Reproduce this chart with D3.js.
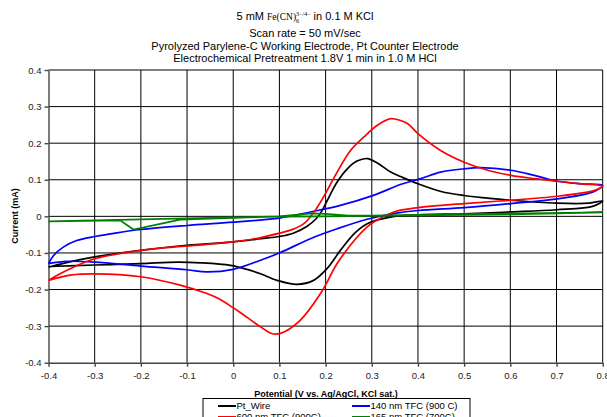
<!DOCTYPE html>
<html>
<head>
<meta charset="utf-8">
<script src="https://d3js.org/d3.v7.min.js"></script>
<style>
body {margin: 0; background: #fff;}
svg {font-family: Arial, "Liberation Sans", sans-serif;}
.grid line {stroke: #000; stroke-width: 1;}
.axis path, .axis line {stroke: #444; stroke-width: 1.4;}
.axis text {font-size: 9.5px; fill: #222;}
.curve {fill: none; stroke-width: 1.7;}
</style>
</head>
<body>
<svg width="607" height="417"></svg>
<script>
// tick values
var xTicks = [-0.4, -0.3, -0.2, -0.1, 0, 0.1, 0.2, 0.3, 0.4, 0.5, 0.6, 0.7, 0.8];
var yTicks = [-0.4, -0.3, -0.2, -0.1, 0, 0.1, 0.2, 0.3, 0.4];

// each curve: [potential V, current mA], in scan order (forward then back)
var ptWire = [[-0.4,-0.139],[-0.37,-0.129],[-0.3,-0.111],[-0.2,-0.093],[-0.1,-0.079],[0.0,-0.070],
  [0.06,-0.061],[0.10,-0.055],[0.13,-0.046],[0.16,-0.027],[0.18,-0.006],[0.192,0.015],[0.203,0.042],
  [0.225,0.094],[0.247,0.130],[0.268,0.151],[0.29,0.158],[0.312,0.146],[0.341,0.121],[0.362,0.109],
  [0.4,0.089],[0.45,0.068],[0.5,0.057],[0.55,0.050],[0.6,0.044],[0.7,0.036],[0.77,0.036],[0.8,0.042],
  [0.78,0.028],[0.7,0.018],[0.6,0.012],[0.5,0.007],[0.4,0.004],[0.34,-0.002],[0.29,-0.020],[0.262,-0.047],
  [0.232,-0.093],[0.203,-0.143],[0.174,-0.175],[0.138,-0.186],[0.095,-0.175],[0.059,-0.157],[0.03,-0.145],
  [-0.006,-0.134],[-0.07,-0.127],[-0.12,-0.125],[-0.2,-0.129],[-0.3,-0.133],[-0.4,-0.137]];

var tfc140 = [[-0.4,-0.129],[-0.389,-0.107],[-0.368,-0.084],[-0.339,-0.066],[-0.299,-0.055],[-0.252,-0.045],
  [-0.2,-0.036],[-0.1,-0.025],[0.0,-0.016],[0.102,-0.004],[0.167,0.012],[0.232,0.030],[0.305,0.058],
  [0.362,0.087],[0.406,0.103],[0.449,0.121],[0.5,0.130],[0.536,0.133],[0.601,0.126],[0.652,0.112],
  [0.702,0.096],[0.753,0.089],[0.8,0.085],
  [0.785,0.070],[0.767,0.062],[0.702,0.048],[0.601,0.035],[0.5,0.024],[0.4,0.016],[0.35,0.008],[0.29,-0.008],
  [0.225,-0.034],[0.167,-0.061],[0.102,-0.099],[0.059,-0.120],[0.0,-0.145],[-0.057,-0.152],[-0.1,-0.146],
  [-0.2,-0.136],[-0.3,-0.125],[-0.36,-0.123],[-0.4,-0.129]];

var tfc600 = [[-0.4,-0.175],[-0.375,-0.157],[-0.346,-0.139],[-0.3,-0.116],[-0.2,-0.093],[-0.1,-0.081],[0.0,-0.070],
  [0.06,-0.058],[0.10,-0.046],[0.13,-0.035],[0.155,-0.018],[0.182,0.025],[0.2035,0.071],[0.225,0.121],
  [0.254,0.180],[0.283,0.217],[0.312,0.249],[0.341,0.267],[0.362,0.262],[0.378,0.253],[0.4,0.226],
  [0.449,0.180],[0.5,0.148],[0.551,0.126],[0.601,0.112],[0.652,0.103],[0.702,0.096],[0.753,0.089],[0.8,0.082],
  [0.785,0.072],[0.767,0.066],[0.702,0.055],[0.601,0.044],[0.5,0.035],[0.4,0.024],[0.348,0.012],[0.305,-0.015],
  [0.29,-0.029],[0.262,-0.066],[0.225,-0.129],[0.189,-0.211],[0.145,-0.284],[0.102,-0.320],[0.085,-0.321],
  [0.059,-0.302],[0.03,-0.276],[0.0,-0.250],[-0.03,-0.226],[-0.057,-0.211],[-0.115,-0.188],[-0.2,-0.165],
  [-0.3,-0.157],[-0.35,-0.160],[-0.4,-0.175]];

var tfc165 = [[-0.4,-0.014],[-0.245,-0.011],[-0.216,-0.036],[-0.115,-0.009],[0.0,-0.004],[0.1,0.000],
  [0.17,0.008],[0.2,0.007],[0.25,0.002],[0.3,0.002],[0.5,0.006],[0.8,0.011],
  [0.6,0.005],[0.3,0.001],[0.2,0.000],[0.1,-0.001],[0.0,-0.003],[-0.2,-0.008],[-0.4,-0.014]];

var seriesNames = ["Pt_Wire", "140 nm TFC (900 C)", "600 nm TFC (900C)", "165 nm TFC (700C)"];
var seriesColors = ["#000000", "#0000ff", "#ff0000", "#008000"];
var seriesData = [ptWire, tfc140, tfc600, tfc165];

var svg = d3.select("svg");
var x = d3.scaleLinear().domain([-0.4, 0.8]).range([48.5, 602.7]);
var y = d3.scaleLinear().domain([-0.4, 0.4]).range([362.7, 70]);

function fmt(d) { return d === 0 ? "0" : String(+d.toFixed(1)); }

// grid
var grid = svg.append("g").attr("class", "grid");
grid.selectAll(".v").data(xTicks.slice(1)).enter().append("line")
  .attr("x1", x).attr("x2", x).attr("y1", y(-0.4)).attr("y2", y(0.4));
grid.selectAll(".h").data(yTicks.slice(1)).enter().append("line")
  .attr("x1", x(-0.4)).attr("x2", x(0.8)).attr("y1", y).attr("y2", y);

// axes
svg.append("g").attr("class", "axis")
  .attr("transform", "translate(0," + y(-0.4) + ")")
  .call(d3.axisBottom(x).tickValues(xTicks).tickFormat(fmt).tickSize(4).tickSizeOuter(0))
  .selectAll("text").attr("dy", "0.95em");
svg.append("g").attr("class", "axis")
  .attr("transform", "translate(" + x(-0.4) + ",0)")
  .call(d3.axisLeft(y).tickValues(yTicks).tickFormat(fmt).tickSize(4).tickSizeOuter(0));

// curves
var line = d3.line().x(function(d) { return x(d[0]); }).y(function(d) { return y(d[1]); });
svg.append("g").selectAll("path").data(seriesData).enter().append("path")
  .attr("class", "curve")
  .attr("stroke", function(d, i) { return seriesColors[i]; })
  .attr("d", function(d, i) {
    return line.curve(i === 3 ? d3.curveLinear : d3.curveCatmullRom.alpha(0.5))(d);
  });

// titles
var t1 = svg.append("text").attr("x", 305).attr("y", 20).attr("text-anchor", "middle")
  .attr("font-size", 11);
t1.append("tspan").text("5 mM  ");
t1.append("tspan").attr("font-family", "'Liberation Serif', 'Times New Roman', serif")
  .attr("font-size", 9.5).text("Fe(CN)");
t1.append("tspan").attr("font-family", "'Liberation Serif', serif").attr("font-size", 6)
  .attr("dy", 2.5).text("6");
t1.append("tspan").attr("font-family", "'Liberation Serif', serif").attr("font-size", 6)
  .attr("dy", -7).attr("dx", -3).text("3\u2212/4\u2212");
t1.append("tspan").attr("dy", 4.5).text("  in 0.1 M KCl");

var titleLines = ["Scan rate = 50 mV/sec",
  "Pyrolyzed Parylene-C Working Electrode, Pt Counter Electrode",
  "Electrochemical Pretreatment 1.8V 1 min in 1.0 M HCl"];
svg.selectAll(".tl").data(titleLines).enter().append("text")
  .attr("x", 305).attr("y", function(d, i) { return 37 + i * 12.5; })
  .attr("text-anchor", "middle").attr("font-size", 11).text(function(d) { return d; });

svg.append("text").attr("x", 326).attr("y", 396.5).attr("text-anchor", "middle")
  .attr("font-size", 9).attr("font-weight", "bold").text("Potential (V vs. Ag/AgCl, KCl sat.)");
svg.append("text").attr("transform", "translate(18,216) rotate(-90)").attr("text-anchor", "middle")
  .attr("font-size", 9).attr("font-weight", "bold").text("Current (mA)");

// legend
var legend = svg.append("g");
legend.append("rect").attr("x", 203).attr("y", 398.5).attr("width", 267).attr("height", 30)
  .attr("fill", "#fff").attr("stroke", "#000").attr("stroke-width", 1);
var items = legend.selectAll(".li").data(seriesNames).enter().append("g")
  .attr("transform", function(d, i) {
    var col = (i === 1 || i === 3) ? 1 : 0;
    var row = i < 2 ? 0 : 1;
    return "translate(" + (218 + col * 134) + "," + (406 + row * 11) + ")";
  });
items.append("line").attr("x1", 0).attr("x2", 18).attr("y1", 0).attr("y2", 0)
  .attr("stroke", function(d, i) { return seriesColors[i]; }).attr("stroke-width", 2);
items.append("text").attr("x", 18.5).attr("dy", "0.35em").attr("font-size", 9.5)
  .text(function(d) { return d; });
</script>
</body>
</html>
